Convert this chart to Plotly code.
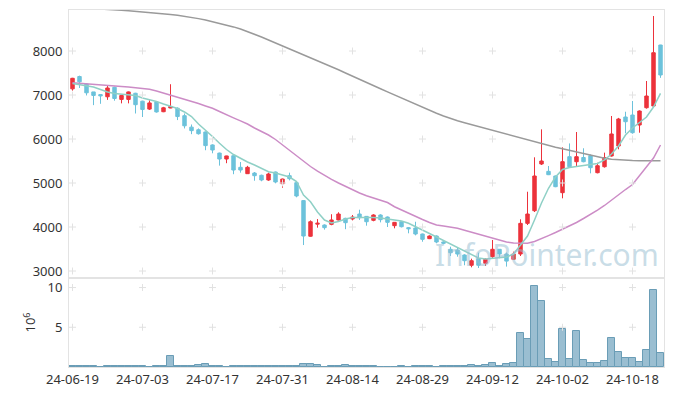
import plotly.graph_objects as go
from plotly.subplots import make_subplots

dates = [
    "24-06-19","24-06-20","24-06-21","24-06-24","24-06-25","24-06-26","24-06-27","24-06-28",
    "24-07-01","24-07-02","24-07-03","24-07-04","24-07-05","24-07-08","24-07-09","24-07-10",
    "24-07-11","24-07-12","24-07-15","24-07-16","24-07-17","24-07-18","24-07-19","24-07-22",
    "24-07-23","24-07-24","24-07-25","24-07-26","24-07-29","24-07-30","24-07-31",
    "24-08-01","24-08-02","24-08-05","24-08-06","24-08-07","24-08-08","24-08-09","24-08-12",
    "24-08-13","24-08-14","24-08-16","24-08-19","24-08-20","24-08-21","24-08-22","24-08-23",
    "24-08-26","24-08-27","24-08-28","24-08-29","24-08-30",
    "24-09-02","24-09-03","24-09-04","24-09-05","24-09-06","24-09-09","24-09-10","24-09-11",
    "24-09-12","24-09-13","24-09-19","24-09-20","24-09-23","24-09-24","24-09-25","24-09-26",
    "24-09-27","24-09-30",
    "24-10-02","24-10-04","24-10-07","24-10-08","24-10-10","24-10-11","24-10-14","24-10-15",
    "24-10-16","24-10-17","24-10-18","24-10-21","24-10-22","24-10-23","24-10-24",
]

open_ = [7140,7420,7250,7070,7010,6960,7175,6900,6900,7040,6860,6680,6840,6620,6705,6700,
         6530,6270,6210,6160,5865,5680,5545,5620,5357,5212,5227,5175,5068,5250,4984,5166,
         5007,4600,3790,4065,4045,4060,4160,4197,4182,4295,4242,4152,4273,4227,4030,4120,
         3985,3977,3841,3735,3795,3660,3493,3477,3364,3130,3280,3175,3325,3493,3386,3266,
         3386,4083,4370,5432,5265,5159,4780,5598,5484,5580,5621,5234,5370,5614,5841,6500,
         6545,6318,6711,6750,8136]
high = [7390,7440,7270,7070,7020,7220,7190,7000,7080,7050,6870,6880,6850,6730,7245,6720,
        6580,6330,6240,6170,5880,5690,5620,5630,5477,5390,5250,5190,5235,5260,5100,5235,
        5020,4610,4150,4180,4060,4290,4335,4210,4273,4393,4250,4290,4290,4240,4110,4130,
        4000,4120,3850,3810,3810,3675,3552,3530,3380,3280,3416,3290,3705,3500,3420,3440,
        4175,4802,5584,6220,5386,5170,5811,5900,6159,5790,5650,5460,5690,6523,6480,6620,
        6864,6650,7318,8795,8140]
low = [7100,7160,6990,6770,6800,6890,6870,6810,6810,6580,6500,6660,6600,6610,6700,6430,
       6240,6110,6100,5745,5675,5395,5450,5200,5235,5210,5052,5040,5050,4993,4893,5060,
       4675,3590,3780,3985,3940,4040,4150,3950,4150,4160,4030,4130,4105,4000,3970,3990,
       3857,3810,3665,3725,3630,3610,3341,3325,3130,3084,3068,3114,3300,3290,3100,3250,
       3341,4045,4341,5409,5180,4905,4652,5360,5370,5470,5220,5220,5350,5600,5766,6130,
       6120,6143,6690,6730,7390]
close = [7380,7300,7050,6990,6980,7160,6920,6990,7070,6780,6670,6820,6615,6710,6740,6510,
         6300,6190,6120,5850,5750,5545,5615,5295,5295,5357,5166,5068,5205,5023,5090,5098,
         4705,3795,4120,4085,3985,4160,4295,4098,4227,4211,4120,4273,4167,4106,4106,4007,
         3960,3841,3720,3795,3659,3630,3416,3386,3234,3234,3130,3266,3493,3386,3225,3386,
         4083,4295,5159,5500,5189,4916,5485,5370,5598,5484,5348,5393,5575,6114,6455,6393,
         6143,6636,6977,7961,7455]

ma5 = [7261,7239,7216,7182,7125,7068,7034,7023,7011,6989,6932,6898,6852,6795,6739,6693,
       6614,6511,6341,6205,6057,5902,5761,5648,5557,5477,5409,5330,5257,5227,5182,5136,
       5034,4727,4575,4341,4159,4091,4125,4182,4216,4220,4220,4216,4205,4182,4175,4136,
       4084,4011,3932,3852,3773,3693,3614,3534,3455,3364,3295,3273,3284,3295,3318,3386,
       3591,3795,4159,4545,4880,5136,5307,5352,5375,5398,5420,5443,5523,5659,5841,6091,
       6250,6386,6500,6727,7039]
ma20 = [7280,7266,7250,7236,7227,7216,7205,7195,7184,7166,7148,7130,7091,7045,7009,6959,
        6914,6864,6807,6752,6698,6625,6545,6480,6411,6341,6250,6168,6091,5989,5864,5739,
        5625,5500,5375,5268,5168,5084,5000,4918,4841,4773,4709,4659,4609,4557,4461,4386,
        4307,4234,4170,4102,4045,4023,4000,3973,3927,3880,3834,3784,3736,3693,3659,3636,
        3627,3630,3670,3732,3805,3875,3948,4023,4102,4193,4280,4386,4489,4614,4739,4852,
        4966,5159,5364,5568,5864]
ma120 = [8989,8982,8973,8964,8955,8945,8936,8927,8914,8902,8891,8880,8866,8850,8832,8814,
         8791,8770,8736,8705,8670,8632,8595,8548,8500,8443,8389,8318,8250,8184,8118,8052,
         7984,7918,7848,7780,7711,7641,7573,7500,7432,7357,7284,7214,7143,7070,6998,6925,
         6857,6786,6714,6645,6584,6523,6464,6414,6370,6327,6282,6239,6200,6155,6107,6061,
         6016,5977,5934,5893,5852,5814,5777,5739,5700,5661,5623,5591,5564,5541,5525,5514,
         5509,5507,5507,5507,5507]

volume_m = [0.12,0.12,0.12,0.12,0,0.12,0.12,0.12,0.12,0.12,0.12,0,0.12,0.12,1.34,0.12,
            0.12,0.12,0.22,0.4,0.12,0.12,0,0.12,0.12,0.12,0.12,0.12,0.12,0.12,0.12,0.12,
            0.12,0.34,0.34,0.21,0,0.12,0.12,0.22,0.12,0.12,0.12,0.12,0,0,0,0.12,
            0,0.12,0.12,0.12,0,0.12,0.12,0.12,0.12,0.21,0.12,0.21,0.5,0.1,0.34,0.46,
            4.28,3.52,10.19,8.30,1.0,0.63,4.74,1.0,4.49,0.88,0.5,0.5,0.75,3.65,1.89,1.13,
            1.13,0.63,2.14,9.69,1.76]

price_ticks = [3000, 4000, 5000, 6000, 7000, 8000]
vol_ticks = [5, 10]
x_tick_labels = ["24-06-19","24-07-03","24-07-17","24-07-31","24-08-14",
                 "24-08-29","24-09-12","24-10-02","24-10-18"]

UP = "#ec323b"
DOWN = "#6cc2db"
FONT = "Noto Sans"

fig = make_subplots(rows=2, cols=1, shared_xaxes=True, vertical_spacing=0,
                    row_heights=[268, 89])

fig.add_trace(go.Scatter(x=dates, y=ma120, mode="lines", showlegend=False,
                         line=dict(color="#9a9a9a", width=1.5)), row=1, col=1)
fig.add_trace(go.Scatter(x=dates, y=ma20, mode="lines", showlegend=False,
                         line=dict(color="#cc8cc6", width=1.5)), row=1, col=1)
fig.add_trace(go.Scatter(x=dates, y=ma5, mode="lines", showlegend=False,
                         line=dict(color="#8fd0c6", width=1.5)), row=1, col=1)

fig.add_trace(go.Candlestick(x=dates, open=open_, high=high, low=low, close=close,
                             showlegend=False, whiskerwidth=0,
                             increasing=dict(line=dict(color=UP, width=1), fillcolor=UP),
                             decreasing=dict(line=dict(color=DOWN, width=1), fillcolor=DOWN)),
              row=1, col=1)

fig.add_trace(go.Bar(x=dates, y=volume_m, showlegend=False,
                     marker=dict(color="rgba(125,172,196,0.78)",
                                 line=dict(color="#6a9db6", width=1))), row=2, col=1)

# grid crosses at tick intersections
cx, cy = [], []
for t in x_tick_labels:
    for p in price_ticks:
        cx.append(t); cy.append(p)
fig.add_trace(go.Scatter(x=cx, y=cy, mode="markers", hoverinfo="skip", showlegend=False,
                         marker=dict(symbol="cross-thin", size=5,
                                     line=dict(color="#e2e2e2", width=1))), row=1, col=1)
vx, vy = [], []
for t in x_tick_labels:
    for p in vol_ticks:
        vx.append(t); vy.append(p)
fig.add_trace(go.Scatter(x=vx, y=vy, mode="markers", hoverinfo="skip", showlegend=False,
                         marker=dict(symbol="cross-thin", size=5,
                                     line=dict(color="#e2e2e2", width=1))), row=2, col=1)

fig.add_annotation(text="InfoPointer.com", xref="paper", yref="paper",
                   x=0.803, y=0.315, xanchor="center", yanchor="middle", showarrow=False,
                   font=dict(family=FONT, size=30, color="rgba(155,192,210,0.55)"))

axis_common = dict(showgrid=False, zeroline=False, showline=True, linecolor="#e3e3e3",
                   linewidth=1, mirror=True)

fig.update_xaxes(type="category", categoryorder="array", categoryarray=dates,
                 range=[-0.5, len(dates) - 0.5], tickmode="array",
                 tickvals=x_tick_labels, ticktext=x_tick_labels, ticks="", tickangle=0,
                 rangeslider=dict(visible=False), **axis_common)
fig.update_xaxes(showticklabels=False, row=1, col=1)
fig.update_xaxes(tickfont=dict(family=FONT, size=13, color="#333333"), row=2, col=1)

fig.update_yaxes(range=[2841, 8932], tickvals=price_ticks, ticks="outside", ticklen=3,
                 tickcolor="rgba(0,0,0,0)",
                 tickfont=dict(family=FONT, size=13, color="#333333"), row=1, col=1,
                 **axis_common)
fig.update_yaxes(range=[0, 11.2], tickvals=vol_ticks, ticks="outside", ticklen=3,
                 tickcolor="rgba(0,0,0,0)",
                 tickfont=dict(family=FONT, size=13, color="#333333"),
                 title=dict(text="10<sup>6</sup>", font=dict(family=FONT, size=13, color="#333333"),
                            standoff=8),
                 row=2, col=1, **axis_common)

fig.update_layout(width=673, height=396, margin=dict(l=69, r=9, t=10, b=29),
                  paper_bgcolor="white", plot_bgcolor="white", bargap=0,
                  font=dict(family=FONT), hovermode=False)

fig.write_html("out.html", config={"displayModeBar": False},
               post_script="document.body.style.margin='0';document.body.style.overflow='hidden';")
